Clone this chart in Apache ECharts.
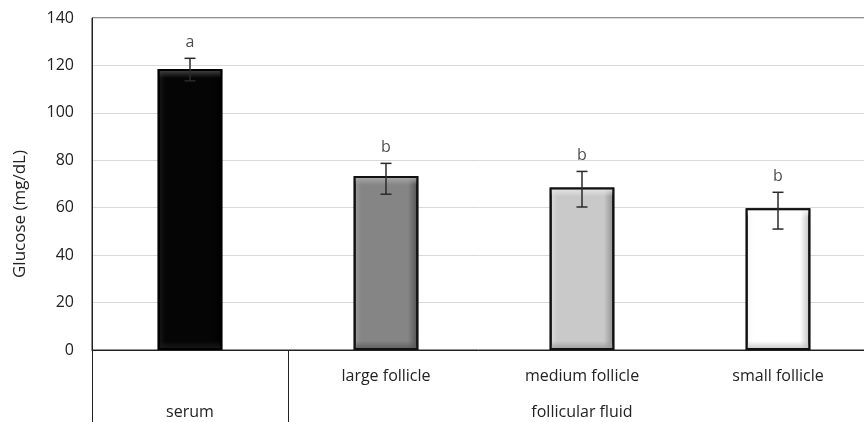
<!DOCTYPE html>
<html>
<head>
<meta charset="utf-8">
<script src="https://cdn.jsdelivr.net/npm/echarts@6/dist/echarts.min.js"></script>
<style>html,body{margin:0;padding:0;background:#fff;width:864px;height:422px;overflow:hidden}#c{width:864px;height:422px;display:block}</style>
</head>
<body>
<div id="c"></div>
<script>
// ---- data ----
const categories = ['serum', 'large follicle', 'medium follicle', 'small follicle'];
const groupLabels = ['serum', '', 'follicular fluid', ''];
const glucose = [118.5, 73.4, 68.5, 59.8];
const errLow = [113.5, 65.7, 60.3, 51.0];
const errHigh = [123.0, 78.7, 75.3, 66.5];
const letters = ['a', 'b', 'b', 'b'];
const yTicks = [0, 20, 40, 60, 80, 100, 120, 140];

// ---- styles ----
const FONT = '"Open Sans"';
const palette = [
  {base:'#050505', light:'#1a1a1a', dark:'#000000', top:'#4a4a4a', bottom:'#1c1c1c', border:'#000'},
  {base:'#858585', light:'#9c9c9c', dark:'#505050', top:'#b0b0b0', bottom:'#5a5a5a', border:'#111'},
  {base:'#c9c9c9', light:'#dedede', dark:'#8a8a8a', top:'#e8e8e8', bottom:'#9a9a9a', border:'#111'},
  {base:'#ffffff', light:'#f4f4f4', dark:'#bdbdbd', top:'#ffffff', bottom:'#c4c4c4', border:'#111'}
];
const plotH = 332, yMax = 140;

function sideGrad(p){
  return {type:'linear', x:0, y:0, x2:1, y2:0, colorStops:[
    {offset:0, color:p.light},{offset:0.12, color:p.base},{offset:0.84, color:p.base},{offset:1, color:p.dark}]};
}
function vertGrad(p, v){
  const h = v / yMax * plotH; const f = Math.min(0.3, 9 / h);
  return {type:'linear', x:0, y:0, x2:0, y2:1, colorStops:[
    {offset:0, color:p.top},{offset:f, color:p.top + '00'},{offset:1 - f, color:p.bottom + '00'},{offset:1, color:p.bottom}]};
}

const chart = echarts.init(document.getElementById('c'), null, {renderer:'canvas', width:864, height:422});
chart.setOption({
  animation:false,
  grid:{left:92, top:18, width:784, height:plotH, containLabel:false, outerBoundsMode:'none',
    show:true, borderColor:'#222', borderWidth:1, backgroundColor:'transparent'},
  xAxis:{
    type:'category', data:categories,
    axisLine:{show:true, lineStyle:{color:'#222', width:1}},
    axisTick:{show:true, length:72, lineStyle:{color:'#222', width:1}, interval:function(i){return i <= 1;}},
    axisLabel:{
      interval:0, margin:8, color:'#222', fontFamily:FONT, fontSize:16, lineHeight:36,
      formatter:function(v, i){ return (i === 0 ? '' : v) + '\n' + groupLabels[i]; }
    }
  },
  yAxis:{
    type:'value', min:0, max:140, interval:20,
    axisLine:{show:true, lineStyle:{color:'#222'}}, axisTick:{show:false},
    splitLine:{lineStyle:{color:'#d9d9d9', width:1}},
    axisLabel:{color:'#222', fontFamily:FONT, fontSize:16, margin:18,
      formatter:function(v){ return yTicks.indexOf(v) >= 0 ? String(v) : ''; }}
  },
  graphic:[{type:'text', x:20, y:214, rotation:Math.PI/2,
    style:{text:'Glucose (mg/dL)', font:'17px ' + FONT, fill:'#222', align:'center', verticalAlign:'middle'}, z:10}],
  series:[
    {type:'bar', barWidth:'33%', barGap:'-100%',
      data:glucose.map(function(v, i){ return {value:v, itemStyle:{color:sideGrad(palette[i]), borderColor:palette[i].border, borderWidth:2}}; }), z:2},
    {type:'bar', barWidth:'33%', barGap:'-100%', silent:true,
      data:glucose.map(function(v, i){ return {value:v, itemStyle:{color:vertGrad(palette[i], v), borderColor:palette[i].border, borderWidth:2}}; }), z:3},
    {type:'custom', z:5,
      data:errLow.map(function(l, i){ return [i, l, errHigh[i]]; }),
      renderItem:function(params, api){
        const lo = api.coord([api.value(0), api.value(1)]);
        const hi = api.coord([api.value(0), api.value(2)]);
        const w = 5.5;
        const st = {stroke:'#2a2a2a', lineWidth:1.5};
        return {type:'group', children:[
          {type:'line', shape:{x1:hi[0], y1:hi[1], x2:lo[0], y2:lo[1]}, style:st},
          {type:'line', shape:{x1:hi[0]-w, y1:hi[1], x2:hi[0]+w, y2:hi[1]}, style:st},
          {type:'line', shape:{x1:lo[0]-w, y1:lo[1], x2:lo[0]+w, y2:lo[1]}, style:st}
        ]};
      }},
    {type:'scatter', symbolSize:0, z:6, silent:true,
      data:errHigh.map(function(h, i){ return [i, h]; }),
      label:{show:true, position:'top', distance:8, color:'#222', fontFamily:FONT, fontSize:16,
        formatter:function(p){ return letters[p.dataIndex]; }}}
  ]
});
</script>
</body>
</html>
